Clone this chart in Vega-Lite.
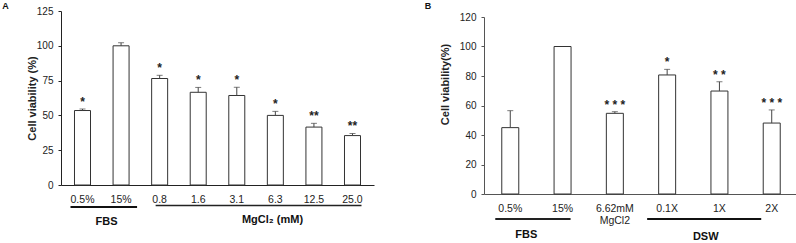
{
  "$schema": "https://vega.github.io/schema/vega-lite/v6.json",
  "background": "white",
  "padding": {"left": 2, "top": 2, "right": 0, "bottom": 0},
  "datasets": {
    "barsA": [
      {"dose": "0.5%", "viability": 53.5, "upper": 54.6, "sig": "*"},
      {"dose": "15%", "viability": 100, "upper": 102.2, "sig": ""},
      {"dose": "0.8", "viability": 76.5, "upper": 78.8, "sig": "*"},
      {"dose": "1.6", "viability": 66.6, "upper": 70.1, "sig": "*"},
      {"dose": "3.1", "viability": 64.3, "upper": 70.2, "sig": "*"},
      {"dose": "6.3", "viability": 50.0, "upper": 52.9, "sig": "*"},
      {"dose": "12.5", "viability": 41.6, "upper": 44.3, "sig": "**"},
      {"dose": "25.0", "viability": 35.5, "upper": 37.0, "sig": "**"}
    ],
    "groupsA": [
      {"group": "FBS", "first": "0.5%", "last": "15%"},
      {"group": "MgCl₂  (mM)", "first": "0.8", "last": "25.0"}
    ],
    "barsB": [
      {"treatment": "0.5%", "viability": 45.0, "upper": 56.5, "sig": ""},
      {"treatment": "15%", "viability": 100, "upper": 100, "sig": ""},
      {"treatment": "6.62mM MgCl2", "viability": 54.7, "upper": 55.8, "sig": "* * *"},
      {"treatment": "0.1X", "viability": 80.7, "upper": 84.5, "sig": "*"},
      {"treatment": "1X", "viability": 69.8, "upper": 76.1, "sig": "* *"},
      {"treatment": "2X", "viability": 48.1, "upper": 57.0, "sig": "* * *"}
    ],
    "groupsB": [
      {"group": "FBS", "first": "0.5%", "last": "15%"},
      {"group": "DSW", "first": "0.1X", "last": "2X"}
    ]
  },
  "concat": [
    {
      "width": 313,
      "height": 174,
      "title": {"text": "A", "anchor": "start", "frame": "bounds", "fontSize": 9, "fontWeight": "bold", "dx": -24, "offset": -5},
      "resolve": {"axis": {"x": "independent", "y": "independent"}},
      "layer": [
        {
          "data": {"name": "barsA"},
          "mark": {"type": "bar", "fill": "white", "stroke": "#333333", "strokeWidth": 1},
          "encoding": {
            "x": {"field": "dose", "type": "nominal", "sort": null,
              "scale": {"paddingInner": 0.585, "paddingOuter": 0.35},
              "axis": {"title": null, "labelAngle": 0, "ticks": false, "tickSize": 0, "labelPadding": 9, "labelFontSize": 10.5, "labelColor": "#222222", "domainColor": "#222222"}},
            "y": {"field": "viability", "type": "quantitative", "scale": {"domain": [0, 125], "nice": false},
              "axis": {"title": "Cell viability (%)", "values": [0, 25, 50, 75, 100, 125], "labelOverlap": false, "labelFlush": false, "titlePadding": -1, "domainColor": "#222222", "tickColor": "#222222"}}
          }
        },
        {
          "data": {"name": "barsA"},
          "transform": [{"filter": "datum.upper > datum.viability"}],
          "mark": {"type": "rule", "color": "#444444", "strokeWidth": 1},
          "encoding": {
            "x": {"field": "dose", "type": "nominal", "sort": null, "axis": null},
            "y": {"field": "viability", "type": "quantitative", "axis": null},
            "y2": {"field": "upper"}
          }
        },
        {
          "data": {"name": "barsA"},
          "transform": [{"filter": "datum.upper > datum.viability"}],
          "mark": {"type": "tick", "orient": "horizontal", "size": 6, "thickness": 1, "color": "#444444"},
          "encoding": {
            "x": {"field": "dose", "type": "nominal", "sort": null, "axis": null},
            "y": {"field": "upper", "type": "quantitative", "axis": null}
          }
        },
        {
          "data": {"name": "barsA"},
          "mark": {"type": "text", "fontSize": 12, "fontWeight": "bold", "baseline": "alphabetic", "dy": -3, "color": "#222222"},
          "encoding": {
            "x": {"field": "dose", "type": "nominal", "sort": null, "axis": null},
            "y": {"field": "upper", "type": "quantitative", "axis": null},
            "text": {"field": "sig"}
          }
        },
        {
          "data": {"name": "groupsA"},
          "transform": [{"filter": "datum.group == 'FBS'"}],
          "mark": {"type": "rule", "strokeWidth": 2, "color": "#111111", "xOffset": -12, "x2Offset": 16},
          "encoding": {
            "x": {"field": "first", "type": "nominal", "sort": null, "axis": null},
            "x2": {"field": "last"},
            "y": {"datum": -15.8, "type": "quantitative", "axis": null}
          }
        },
        {
          "data": {"name": "groupsA"},
          "transform": [{"filter": "datum.group != 'FBS'"}],
          "mark": {"type": "rule", "strokeWidth": 1.5, "color": "#222222", "xOffset": -4, "x2Offset": 9},
          "encoding": {
            "x": {"field": "first", "type": "nominal", "sort": null, "axis": null},
            "x2": {"field": "last"},
            "y": {"datum": -14.8, "type": "quantitative", "axis": null}
          }
        },
        {
          "data": {"name": "groupsA"},
          "transform": [{"filter": "datum.group == 'FBS'"}],
          "mark": {"type": "text", "fontSize": 11, "fontWeight": "bold", "baseline": "alphabetic", "align": "center", "dx": 24, "color": "#111111"},
          "encoding": {
            "x": {"field": "first", "type": "nominal", "sort": null, "axis": null},
            "y": {"datum": -28.7, "type": "quantitative", "axis": null},
            "text": {"field": "group"}
          }
        },
        {
          "data": {"name": "groupsA"},
          "transform": [{"filter": "datum.group != 'FBS'"}],
          "mark": {"type": "text", "fontSize": 11, "fontWeight": "bold", "baseline": "alphabetic", "align": "center", "dx": -80, "color": "#111111"},
          "encoding": {
            "x": {"field": "last", "type": "nominal", "sort": null, "axis": null},
            "y": {"datum": -27.6, "type": "quantitative", "axis": null},
            "text": {"field": "group"}
          }
        }
      ]
    },
    {
      "width": 314,
      "height": 183,
      "title": {"text": "B", "anchor": "start", "frame": "bounds", "fontSize": 9, "fontWeight": "bold", "dx": -15, "offset": 0},
      "resolve": {"axis": {"x": "independent", "y": "independent"}},
      "layer": [
        {
          "data": {"name": "barsB"},
          "mark": {"type": "bar", "fill": "white", "stroke": "#333333", "strokeWidth": 1},
          "encoding": {
            "x": {"field": "treatment", "type": "nominal", "sort": null,
              "scale": {"paddingInner": 0.675, "paddingOuter": 0.34},
              "axis": {"title": null, "labelAngle": 0, "ticks": false, "tickSize": 0, "labelPadding": 9, "labelFontSize": 10.5, "labelLineHeight": 12, "labelExpr": "split(datum.label, ' ')", "labelColor": "#222222", "domainColor": "#555555"}},
            "y": {"field": "viability", "type": "quantitative", "scale": {"domain": [0, 120], "range": [183, 6], "nice": false},
              "axis": {"title": "Cell viability(%)", "values": [0, 20, 40, 60, 80, 100, 120], "labelOverlap": false, "labelFlush": false, "titlePadding": 8.5, "titleY": 73, "domainColor": "#555555", "tickColor": "#555555"}}
          }
        },
        {
          "data": {"name": "barsB"},
          "transform": [{"filter": "datum.upper > datum.viability"}],
          "mark": {"type": "rule", "color": "#444444", "strokeWidth": 1},
          "encoding": {
            "x": {"field": "treatment", "type": "nominal", "sort": null, "axis": null},
            "y": {"field": "viability", "type": "quantitative", "axis": null},
            "y2": {"field": "upper"}
          }
        },
        {
          "data": {"name": "barsB"},
          "transform": [{"filter": "datum.upper > datum.viability"}],
          "mark": {"type": "tick", "orient": "horizontal", "size": 6, "thickness": 1, "color": "#444444"},
          "encoding": {
            "x": {"field": "treatment", "type": "nominal", "sort": null, "axis": null},
            "y": {"field": "upper", "type": "quantitative", "axis": null}
          }
        },
        {
          "data": {"name": "barsB"},
          "mark": {"type": "text", "fontSize": 12, "fontWeight": "bold", "baseline": "alphabetic", "dy": -3, "color": "#222222"},
          "encoding": {
            "x": {"field": "treatment", "type": "nominal", "sort": null, "axis": null},
            "y": {"field": "upper", "type": "quantitative", "axis": null},
            "text": {"field": "sig"}
          }
        },
        {
          "data": {"name": "groupsB"},
          "transform": [{"filter": "datum.group == 'FBS'"}],
          "mark": {"type": "rule", "strokeWidth": 2, "color": "#222222", "xOffset": -15, "x2Offset": 8},
          "encoding": {
            "x": {"field": "first", "type": "nominal", "sort": null, "axis": null},
            "x2": {"field": "last"},
            "y": {"datum": -16.9, "type": "quantitative", "axis": null}
          }
        },
        {
          "data": {"name": "groupsB"},
          "transform": [{"filter": "datum.group == 'DSW'"}],
          "mark": {"type": "rule", "strokeWidth": 2, "color": "#111111", "xOffset": -20, "x2Offset": -10.5},
          "encoding": {
            "x": {"field": "first", "type": "nominal", "sort": null, "axis": null},
            "x2": {"field": "last"},
            "y": {"datum": -16.9, "type": "quantitative", "axis": null}
          }
        },
        {
          "data": {"name": "groupsB"},
          "transform": [{"filter": "datum.group == 'FBS'"}],
          "mark": {"type": "text", "fontSize": 11, "fontWeight": "bold", "baseline": "alphabetic", "align": "center", "dx": 16, "color": "#111111"},
          "encoding": {
            "x": {"field": "first", "type": "nominal", "sort": null, "axis": null},
            "y": {"datum": -30, "type": "quantitative", "axis": null},
            "text": {"field": "group"}
          }
        },
        {
          "data": {"name": "groupsB"},
          "transform": [{"filter": "datum.group == 'DSW'"}],
          "mark": {"type": "text", "fontSize": 11, "fontWeight": "bold", "baseline": "alphabetic", "align": "center", "dx": 38.6, "color": "#111111"},
          "encoding": {
            "x": {"field": "first", "type": "nominal", "sort": null, "axis": null},
            "y": {"datum": -31, "type": "quantitative", "axis": null},
            "text": {"field": "group"}
          }
        }
      ]
    }
  ],
  "columns": 2,
  "spacing": 50,
  "align": "none",
  "bounds": "full",
  "config": {
    "view": {"stroke": null},
    "font": "Liberation Sans",
    "axis": {"labelFont": "Liberation Sans", "titleFont": "Liberation Sans"},
    "axisY": {"grid": false, "labelOverlap": false, "labelFlush": false, "tickSize": 3, "labelPadding": 5, "titleFontSize": 11, "titleFontWeight": "bold", "labelFontSize": 10, "labelColor": "#222222", "titleColor": "#222222"},
    "title": {"font": "Liberation Sans", "color": "#111111"},
    "text": {"font": "Liberation Sans"}
  }
}
